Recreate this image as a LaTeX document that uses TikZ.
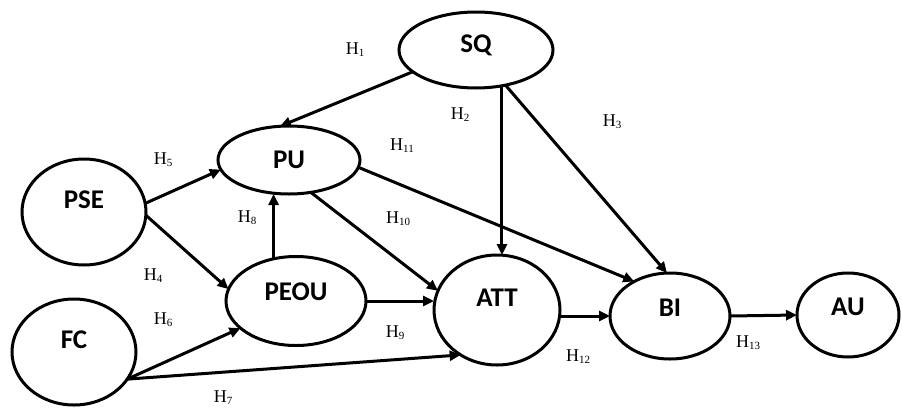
\documentclass[tikz,border=0pt]{standalone}
\usepackage{fontspec}
\setmainfont{Liberation Serif}
\newfontfamily\nodefont{Carlito}
\usetikzlibrary{arrows.meta,shapes.geometric}

\tikzset{
  construct/.style={ellipse, draw, line width=3pt, inner sep=0pt, outer sep=0pt},
  name text/.style={font=\nodefont\bfseries\fontsize{27}{27}\selectfont},
  path arrow/.style={line width=3pt, -{Triangle[length=11pt,width=10pt]}},
  hyp/.style={font=\fontsize{18}{18}\selectfont, inner sep=0pt}
}
% hypothesis label: H with a small lowered index
\newcommand{\hyplabel}[1]{H\raisebox{-2pt}{\fontsize{11}{11}\selectfont #1}}

\begin{document}
\begin{tikzpicture}[x=1pt, y=-1pt]
\useasboundingbox (0,0) rectangle (902,407);

% constructs
\node[construct, minimum width=154pt, minimum height=76pt,
      label={[name text, yshift=5pt]center:SQ}] (sq) at (476,50) {};
\node[construct, minimum width=142pt, minimum height=68pt,
      label={[name text]center:PU}] (pu) at (289,160) {};
\node[construct, minimum width=124pt, minimum height=106pt,
      label={[name text, yshift=12pt]center:PSE}] (pse) at (84,212) {};
\node[construct, minimum width=140pt, minimum height=89pt,
      label={[name text, yshift=9pt]center:PEOU}] (peou) at (296,301) {};
\node[construct, minimum width=124pt, minimum height=106pt,
      label={[name text, yshift=12pt]center:FC}] (fc) at (74,352) {};
\node[construct, minimum width=126pt, minimum height=110pt,
      label={[name text, yshift=12pt]center:ATT}] (att) at (497,310) {};
\node[construct, minimum width=120pt, minimum height=86pt,
      label={[name text, yshift=8pt]center:BI}] (bi) at (670,316) {};
\node[construct, minimum width=102pt, minimum height=84pt,
      label={[name text, yshift=8pt]center:AU}] (au) at (848,315) {};

% paths
\draw[path arrow] (sq.199) -- (pu.105);
\draw[path arrow] (sq.-54) -- (sq.-54 |- att.north);
\draw[path arrow] (sq.-50) -- (bi.94);
\draw[path arrow] (pu.-6) -- (bi.136);
\draw[path arrow] (pu.-56) -- (att.162);
\draw[path arrow] (peou.118) -- (peou.118 |- pu.south);
\draw[path arrow] (pse.8) -- (pu.188);
\draw[path arrow] (pse.-3) -- (peou.170);
\draw[path arrow] (peou.east) -- (peou.east -| att.west);
\draw[path arrow] (fc.-27) -- (peou.206);
\draw[path arrow] (fc.-27) -- (att.231);
\draw[path arrow] (att.east |- bi.west) -- (bi.west);
\draw[path arrow] (bi.east) -- (au.west);

% hypothesis labels
\node[hyp] (h1)  at (355,50)  {\hyplabel{1}};
\node[hyp] (h2)  at (460,115) {\hyplabel{2}};
\node[hyp] (h3)  at (612,122) {\hyplabel{3}};
\node[hyp] (h4)  at (153,276) {\hyplabel{4}};
\node[hyp] (h5)  at (163,160) {\hyplabel{5}};
\node[hyp] (h6)  at (163,320) {\hyplabel{6}};
\node[hyp] (h7)  at (223,398) {\hyplabel{7}};
\node[hyp] (h8)  at (247,218) {\hyplabel{8}};
\node[hyp] (h9)  at (395,333) {\hyplabel{9}};
\node[hyp] (h10) at (398,219) {\hyplabel{10}};
\node[hyp] (h11) at (402,146) {\hyplabel{11}};
\node[hyp] (h12) at (578,357) {\hyplabel{12}};
\node[hyp] (h13) at (748,343) {\hyplabel{13}};
\end{tikzpicture}
\end{document}
